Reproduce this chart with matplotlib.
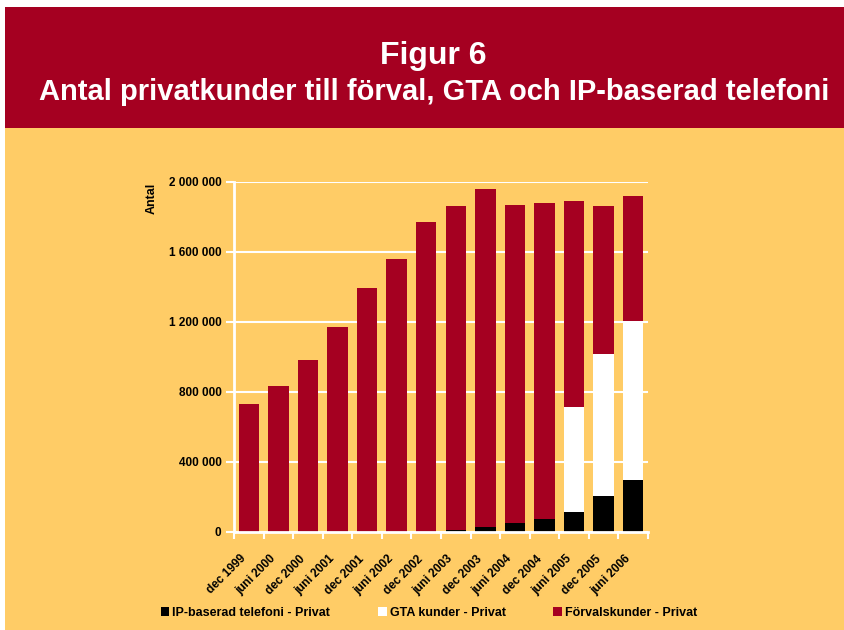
import matplotlib
matplotlib.use("Agg")
import matplotlib.pyplot as plt
from matplotlib.patches import Rectangle, Patch
from matplotlib.transforms import ScaledTranslation
import numpy as np

categories = ["dec 1999", "juni 2000", "dec 2000", "juni 2001", "dec 2001", "juni 2002",
              "dec 2002", "juni 2003", "dec 2003", "juni 2004", "dec 2004", "juni 2005",
              "dec 2005", "juni 2006"]
ip_privat = [0, 0, 0, 0, 0, 0, 0, 13000, 30000, 51000, 76000, 114000, 206000, 297000]
gta_privat = [0, 0, 0, 0, 0, 0, 0, 0, 0, 0, 0, 600000, 813000, 909000]
forval_privat = [733000, 836000, 983000, 1173000, 1396000, 1560000, 1773000,
                 1850000, 1928000, 1818000, 1806000, 1176000, 844000, 712000]
yticks = [0, 400000, 800000, 1200000, 1600000, 2000000]
ytick_labels = ["0", "400 000", "800 000", "1 200 000", "1 600 000", "2 000 000"]

RED = "#A50021"
YEL = "#FFCC66"
plt.rcParams["font.family"] = ["Liberation Sans", "DejaVu Sans"]
plt.rcParams["font.weight"] = "bold"

fig = plt.figure(figsize=(8.44, 6.30), dpi=100, facecolor="white")
W, H = 844, 630
fig.patches.append(Rectangle((5 / W, 0), 1, 1 - 128 / H, transform=fig.transFigure,
                             facecolor=YEL, edgecolor="none", zorder=-2))
fig.patches.append(Rectangle((5 / W, 1 - 128 / H), 1, (128 - 7) / H, transform=fig.transFigure,
                             facecolor=RED, edgecolor="none", zorder=-2))
fig.text(433 / W, 1 - 56 / H, "Figur 6", color="white", fontsize=23, fontweight="bold",
         ha="center", va="center")
fig.text(434 / W, 1 - 92 / H, "Antal privatkunder till förval, GTA och IP-baserad telefoni",
         color="white", fontsize=21, fontweight="bold", ha="center", va="center")

ax = fig.add_axes([234 / W, 1 - 532 / H, (648 - 234) / W, (532 - 182) / H])
ax.set_facecolor("none")
x = np.arange(len(categories))
ip = np.array(ip_privat)
gta = np.array(gta_privat)
fv = np.array(forval_privat)
w = 0.69
ax.bar(x, ip, w, color="black", zorder=3, label="IP-baserad telefoni - Privat")
ax.bar(x, gta, w, bottom=ip, color="white", zorder=3, label="GTA kunder - Privat")
ax.bar(x, fv, w, bottom=ip + gta, color=RED, zorder=3, label="Förvalskunder - Privat")

ax.set_xlim(-0.5, len(categories) - 0.5)
ax.set_ylim(0, 2000000)
ax.set_yticks(yticks)
ax.set_yticklabels(ytick_labels, fontsize=8.5, fontweight="bold")
ax.grid(axis="y", color="white", linewidth=1.5, zorder=1)
ax.set_xticks(x)
ax.set_xticklabels(categories, rotation=45, ha="right", rotation_mode="anchor",
                   fontsize=8.5, fontweight="bold")
ax.tick_params(axis="x", length=0, pad=15)
off = ScaledTranslation(-9 / 100, 0, fig.dpi_scale_trans)
for lab in ax.get_xticklabels():
    lab.set_transform(lab.get_transform() + off)
ax.set_xticks(np.arange(-0.5, len(categories), 1), minor=True)
ax.tick_params(axis="x", which="minor", length=5, width=1.5, color="white")
ax.tick_params(axis="y", length=6, width=1.5, color="white", pad=3)
for s in ["top", "right"]:
    ax.spines[s].set_visible(False)
for s in ["left", "bottom"]:
    ax.spines[s].set_color("white")
    ax.spines[s].set_linewidth(2)
    ax.spines[s].set_zorder(4)

fig.text(152 / W, 1 - 198 / H, "Antal", rotation=90, fontsize=9, fontweight="bold",
         ha="center", va="center")

handles = [Patch(facecolor="black"), Patch(facecolor="white"), Patch(facecolor=RED)]
labels = ["IP-baserad telefoni - Privat", "GTA kunder - Privat", "Förvalskunder - Privat"]
fig.legend(handles, labels, ncol=3, loc="center", bbox_to_anchor=(429 / W, 1 - 613 / H),
           frameon=False, handlelength=0.7, handleheight=0.7,
           handletextpad=0.25, columnspacing=3.8, prop={"weight": "bold", "size": 9})

fig.savefig("out.png", dpi=100, facecolor=fig.get_facecolor())
